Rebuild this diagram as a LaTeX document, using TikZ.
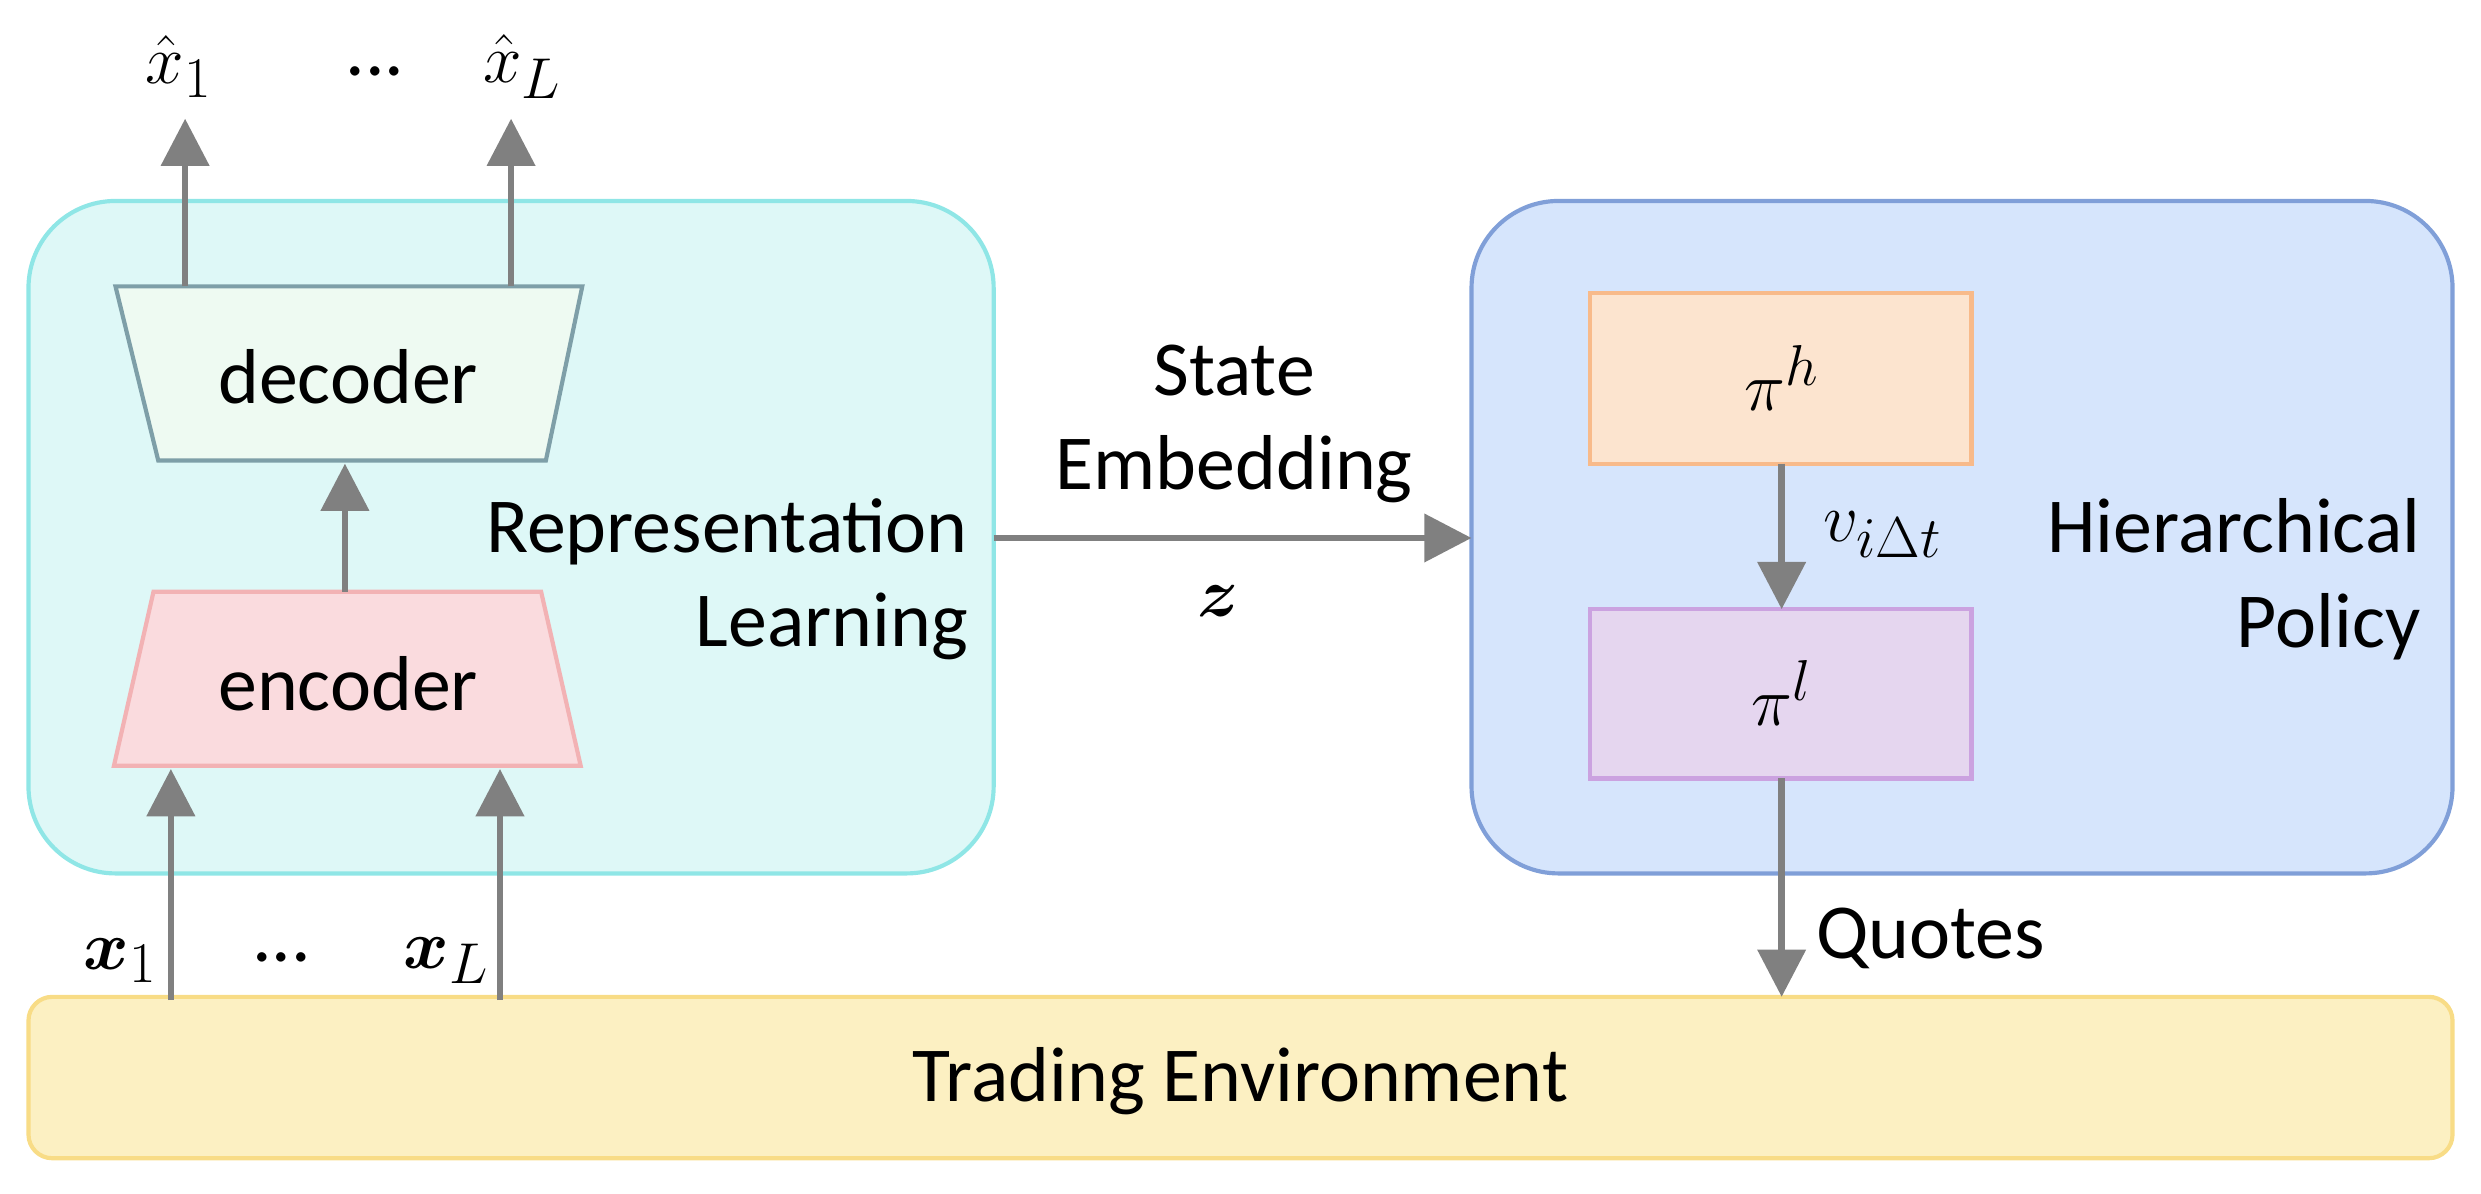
\documentclass[tikz,border=0pt]{standalone}
\usepackage{fontspec}
\usepackage{amsmath,bm}
\setmainfont{Carlito}
\usetikzlibrary{shapes.geometric,arrows.meta}
\definecolor{arr}{HTML}{808080}
\definecolor{lfill}{HTML}{DEF8F7}\definecolor{ldraw}{HTML}{8FE6E6}
\definecolor{rfill}{HTML}{D6E5FC}\definecolor{rdraw}{HTML}{809FD8}
\definecolor{efill}{HTML}{FCF0C2}\definecolor{edraw}{HTML}{F8DC86}
\definecolor{dfill}{HTML}{EEFAF2}\definecolor{ddraw}{HTML}{7E9FA8}
\definecolor{nfill}{HTML}{FADBDE}\definecolor{ndraw}{HTML}{F2B2B4}
\definecolor{hfill}{HTML}{FCE4CF}\definecolor{hdraw}{HTML}{F8BA8A}
\definecolor{pfill}{HTML}{E5D6EF}\definecolor{pdraw}{HTML}{CBA2E0}
\begin{document}
\begin{tikzpicture}[x=0.02cm,y=-0.02cm,
  font=\fontsize{28}{34}\selectfont,
  bigbox/.style={rounded corners=1.1cm,line width=1.5pt},
  box/.style={line width=1.5pt},
  ar/.style={draw=arr,line width=2.4pt,-{Triangle[length=17pt,width=17pt]}},
  lab/.style={inner sep=0pt}]
\useasboundingbox (0,0) rectangle (1568,754);
\draw[bigbox,fill=lfill,draw=ldraw] (18,127) rectangle (628,552);
\draw[bigbox,fill=rfill,draw=rdraw] (930,127) rectangle (1550,552);
\draw[rounded corners=0.3cm,line width=1.5pt,fill=efill,draw=edraw] (18,630) rectangle (1550,732);
\node[lab] (env) at (784,683) {Trading Environment};
% decoder / encoder
\draw[box,fill=dfill,draw=ddraw] (73,181) -- (368,181) -- (345,291) -- (100,291) -- cycle;
\node[lab] (dec) at (220,238) {decoder};
\draw[box,fill=nfill,draw=ndraw] (97,374) -- (342,374) -- (367,484) -- (72,484) -- cycle;
\node[lab] (enc) at (220,432) {encoder};
\coordinate (dt) at (218,293); \coordinate (eb) at (218,374);
\draw[ar] (eb) -- (dt);
\coordinate (o1) at (117,181); \coordinate (o1e) at (117,75);
\coordinate (o2) at (323,181); \coordinate (o2e) at (323,75);
\draw[ar] (o1) -- (o1e); \draw[ar] (o2) -- (o2e);
\coordinate (i1) at (108,632); \coordinate (i1e) at (108,486);
\coordinate (i2) at (316,632); \coordinate (i2e) at (316,486);
\draw[ar] (i1) -- (i1e); \draw[ar] (i2) -- (i2e);
\node[lab] (xh1) at (113,42) {$\hat{x}_1$};
\node[lab] (xd1) at (237,45) {...};
\node[lab] (xhL) at (330,42) {$\hat{x}_L$};
\node[lab] (x1) at (76,607) {$\bm{x}_1$};
\node[lab] (xd2) at (178,605) {...};
\node[lab] (xL) at (282,607) {$\bm{x}_L$};
\node[lab,anchor=east,align=right] (rl) at (612,366) {Representation\\Learning};
% state embedding
\coordinate (s1) at (628,340); \coordinate (s2) at (930,340);
\draw[ar] (s1) -- (s2);
\node[lab,align=center] (se) at (780,268) {State\\Embedding};
\node[lab] (z) at (770,380) {$\bm{z}$};
% policy
\draw[box,fill=hfill,draw=hdraw] (1005,185) rectangle (1246,293);
\node[lab] (phl) at (1126,239) {$\pi^h$};
\draw[box,fill=pfill,draw=pdraw] (1005,385) rectangle (1246,492);
\node[lab] (pll) at (1126,438) {$\pi^l$};
\coordinate (a1) at (1126,293); \coordinate (a2) at (1126,385);
\draw[ar] (a1) -- (a2);
\coordinate (b1) at (1126,492); \coordinate (b2) at (1126,630);
\draw[ar] (b1) -- (b2);
\node[lab] (v) at (1190,338) {$v_{i\Delta t}$};
\node[lab] (q) at (1220,593) {Quotes};
\node[lab,anchor=east,align=right] (hp) at (1530,366) {Hierarchical\\Policy};
\end{tikzpicture}
\end{document}
